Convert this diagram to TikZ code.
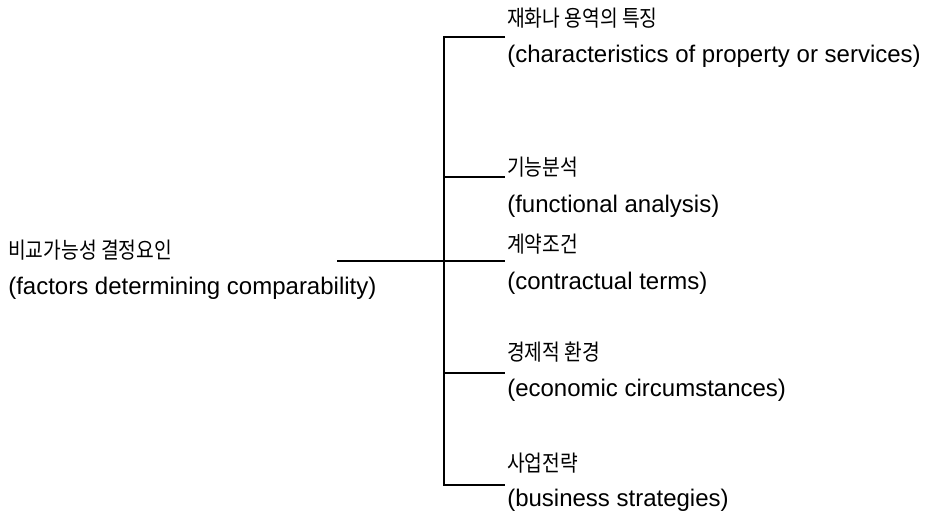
\documentclass[tikz,border=0pt]{standalone}
\usepackage{fontspec}
\setmainfont{Noto Sans CJK KR}
\newfontfamily\korfont[FakeStretch=0.86]{Noto Sans CJK KR}
\newfontfamily\engfont{Liberation Sans}
\begin{document}
\begin{tikzpicture}[x=0.75pt,y=-0.75pt,
  lbl/.style={anchor=west,inner sep=0pt,font=\korfont\fontsize{16.8}{19}\selectfont},
  eng/.style={anchor=west,inner sep=0pt,font=\engfont\fontsize{18}{20}\selectfont},
  ln/.style={line width=0.9pt,black}]
\useasboundingbox (0,0) rectangle (931,518);
% left
\node[lbl] (l1) at (8,250) {비교가능성 결정요인};
\node[eng] (l2) at (8,288) {(factors determining comparability)};
% right
\node[lbl] (a1) at (507,18) {재화나 용역의 특징};
\node[eng] (a2) at (507,56) {(characteristics of property or services)};
\node[lbl] (b1) at (507,167) {기능분석};
\node[eng] (b2) at (507,206) {(functional analysis)};
\node[lbl] (c1) at (507,244) {계약조건};
\node[eng] (c2) at (507,283) {(contractual terms)};
\node[lbl] (d1) at (507,352) {경제적 환경};
\node[eng] (d2) at (507,390) {(economic circumstances)};
\node[lbl] (e1) at (507,463) {사업전략};
\node[eng] (e2) at (507,500) {(business strategies)};
% bracket
\coordinate (ms) at (337,261);
\coordinate (vt) at (444,37);
\coordinate (vb) at (444,485);
\coordinate (ta) at (505,37);
\coordinate (tb) at (505,177);
\coordinate (tc) at (505,261);
\coordinate (td) at (505,373);
\coordinate (te) at (505,485);
\draw[ln] (ms) -- (tc);
\draw[ln] (ta) -- (vt) -- (vb) -- (te);
\draw[ln] (vt |- tb) -- (tb);
\draw[ln] (vt |- td) -- (td);
\end{tikzpicture}
\end{document}
